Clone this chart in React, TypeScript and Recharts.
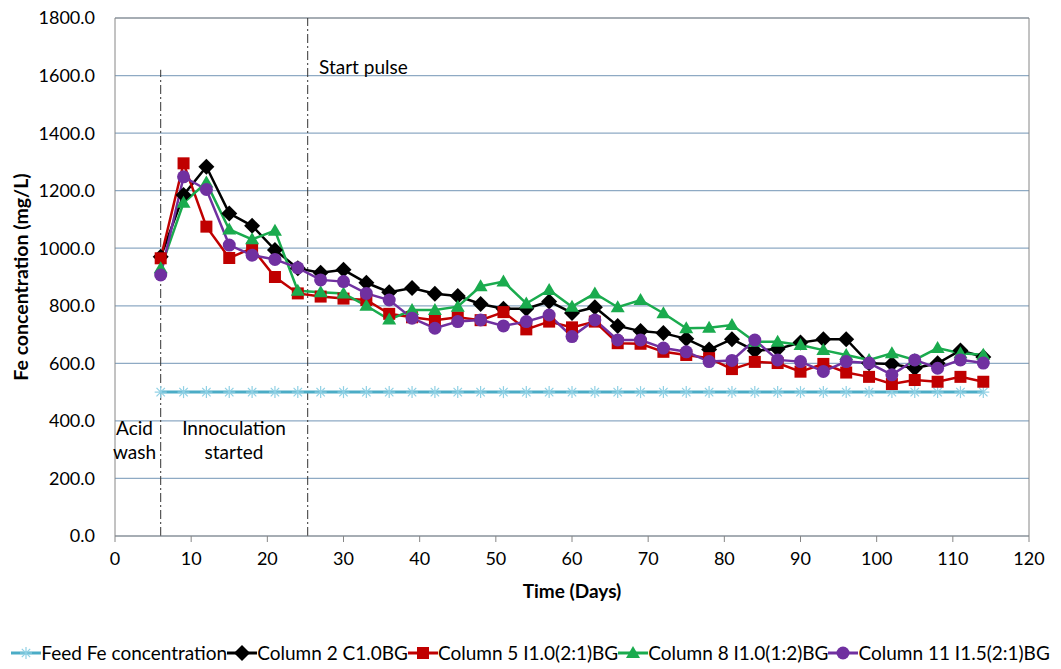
import { LineChart, Line, XAxis, YAxis, CartesianGrid, ReferenceLine, Label } from 'recharts';

const days = [6, 9, 12, 15, 18, 21, 24, 27, 30, 33, 36, 39, 42, 45, 48, 51, 54, 57, 60, 63, 66, 69, 72, 75, 78, 81, 84, 87, 90, 93, 96, 99, 102, 105, 108, 111, 114];
const feed = days.map(() => 500);
const col2 = [970, 1185, 1283, 1121, 1078, 994, 930, 915, 925, 880, 847, 862, 842, 834, 806, 790, 790, 815, 775, 795, 730, 712, 705, 685, 648, 684, 644, 650, 672, 684, 684, 600, 598, 583, 600, 645, 622];
const col5 = [965, 1295, 1075, 966, 1000, 900, 843, 832, 825, 820, 772, 760, 750, 760, 750, 778, 718, 745, 725, 745, 670, 668, 640, 629, 618, 580, 605, 601, 571, 598, 568, 553, 528, 542, 536, 553, 536];
const col8 = [930, 1158, 1228, 1065, 1031, 1061, 852, 847, 843, 800, 752, 785, 785, 797, 868, 884, 808, 855, 797, 843, 795, 820, 774, 722, 724, 733, 675, 675, 664, 646, 629, 612, 635, 612, 653, 635, 630];
const col11 = [907, 1248, 1204, 1011, 976, 961, 932, 890, 884, 843, 820, 757, 722, 745, 751, 730, 745, 768, 693, 751, 681, 681, 653, 640, 606, 610, 681, 612, 606, 572, 606, 601, 560, 612, 583, 612, 601];
const xTicks = [0, 10, 20, 30, 40, 50, 60, 70, 80, 90, 100, 110, 120];
const yTicks = [0, 200, 400, 600, 800, 1000, 1200, 1400, 1600, 1800];

const data = days.map((d, i) => ({ day: d, feed: feed[i], c2: col2[i], c5: col5[i], c8: col8[i], c11: col11[i] }));

const FONT = 'Lato, "Open Sans", sans-serif';

function Asterisk({ cx, cy, color }: any) {
  const s = 6;
  return (
    <g stroke={color} strokeWidth={1.2}>
      <line x1={cx - s} y1={cy} x2={cx + s} y2={cy} />
      <line x1={cx} y1={cy - s} x2={cx} y2={cy + s} />
      <line x1={cx - s * 0.7} y1={cy - s * 0.7} x2={cx + s * 0.7} y2={cy + s * 0.7} />
      <line x1={cx - s * 0.7} y1={cy + s * 0.7} x2={cx + s * 0.7} y2={cy - s * 0.7} />
    </g>
  );
}

const shapes: Record<string, (cx: number, cy: number) => any> = {
  feed: (cx, cy) => <Asterisk cx={cx} cy={cy} color="#8fd0e4" />,
  c2: (cx, cy) => <polygon points={`${cx},${cy - 8} ${cx + 8},${cy} ${cx},${cy + 8} ${cx - 8},${cy}`} fill="#000" />,
  c5: (cx, cy) => <rect x={cx - 6} y={cy - 6} width={12} height={12} fill="#c00000" />,
  c8: (cx, cy) => <polygon points={`${cx},${cy - 7} ${cx + 7},${cy + 5} ${cx - 7},${cy + 5}`} fill="#1aab4e" />,
  c11: (cx, cy) => <circle cx={cx} cy={cy} r={6.5} fill="#7030a0" />,
};

const dotFor = (k: string) => (p: any) => <g key={`${k}-${p.index}`}>{shapes[k](p.cx, p.cy)}</g>;

const series = [
  { key: 'feed', name: 'Feed Fe concentration', color: '#4bacc6' },
  { key: 'c2', name: 'Column 2 C1.0BG', color: '#000000' },
  { key: 'c5', name: 'Column 5 I1.0(2:1)BG', color: '#c00000' },
  { key: 'c8', name: 'Column 8 I1.0(1:2)BG', color: '#1aab4e' },
  { key: 'c11', name: 'Column 11 I1.5(2:1)BG', color: '#7030a0' },
];

export default function App() {
  return (
    <div style={{ position: 'absolute', left: 0, top: 0, width: 1061, height: 669, background: '#fff', fontFamily: FONT }}>
      <LineChart width={1061} height={669} data={data} margin={{ top: 18, right: 32, left: 35, bottom: 83 }}>
        <CartesianGrid vertical={false} stroke="#8eaac4" strokeWidth={1.2} />
        <XAxis
          dataKey="day"
          type="number"
          domain={[0, 120]}
          ticks={xTicks}
          height={50}
          stroke="#868686"
          tick={{ fill: '#000', fontSize: 18, fontFamily: FONT }}
          tickSize={6}
          tickMargin={10}
        >
          <Label value="Time (Days)" position="insideBottom" offset={-12} style={{ fontWeight: 'bold', fontSize: 19, fill: '#000', fontFamily: FONT }} />
        </XAxis>
        <YAxis
          type="number"
          domain={[0, 1800]}
          ticks={yTicks}
          width={80}
          stroke="#868686"
          tickFormatter={(v: number) => v.toFixed(1)}
          tick={{ fill: '#000', fontSize: 18, fontFamily: FONT }}
          tickLine={false}
          tickSize={0}
          tickMargin={20}
        >
          <Label value="Fe concentration (mg/L)" angle={-90} position="insideLeft" offset={-14} style={{ fontWeight: 'bold', fontSize: 19.5, fill: '#000', textAnchor: 'middle', fontFamily: FONT }} />
        </YAxis>
        <ReferenceLine x={120} stroke="#868686" />
        <ReferenceLine y={1800} stroke="#868686" />
        <ReferenceLine segment={[{ x: 6, y: 0 }, { x: 6, y: 1620 }]} stroke="#333" strokeDasharray="9 3 2 3" />
        <ReferenceLine segment={[{ x: 25.3, y: 0 }, { x: 25.3, y: 1800 }]} stroke="#333" strokeDasharray="9 3 2 3" />
        {series.map((s) => (
          <Line
            key={s.key}
            dataKey={s.key}
            stroke={s.color}
            strokeWidth={s.key === 'feed' ? 3 : 2.5}
            dot={dotFor(s.key)}
            activeDot={false}
            isAnimationActive={false}
          />
        ))}
      </LineChart>
      <div style={{ position: 'absolute', left: 319, top: 55, fontSize: 19 }}>Start pulse</div>
      <div style={{ position: 'absolute', left: 113, top: 416, fontSize: 19, textAlign: 'center', lineHeight: '24px' }}>Acid<br />wash</div>
      <div style={{ position: 'absolute', left: 170, top: 416, width: 128, fontSize: 19, textAlign: 'center', lineHeight: '24px' }}>Innoculation<br />started</div>
      <div style={{ position: 'absolute', left: 0, top: 641, width: 1061, display: 'flex', justifyContent: 'center', fontSize: 19, whiteSpace: 'nowrap' }}>
        {series.map((s) => (
          <div key={s.key} style={{ display: 'flex', alignItems: 'center' }}>
            <svg width={30} height={18}>
              <line x1={0} y1={9} x2={30} y2={9} stroke={s.color} strokeWidth={3} />
              {shapes[s.key](15, 9)}
            </svg>
            <span>{s.name}</span>
          </div>
        ))}
      </div>
    </div>
  );
}
